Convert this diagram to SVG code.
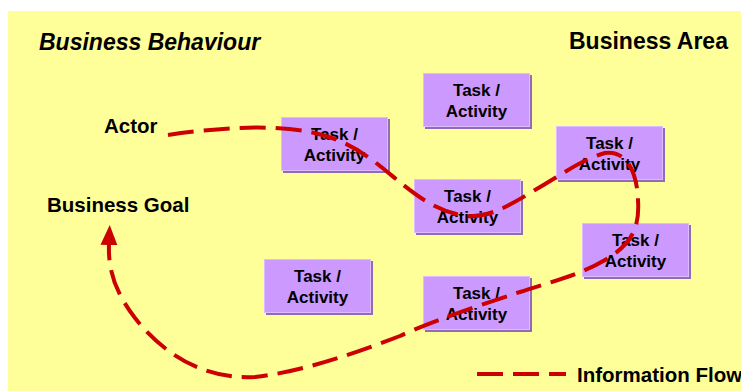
<svg xmlns="http://www.w3.org/2000/svg" width="741" height="391" viewBox="0 0 741 391">
  <style>
    .lbl { font-family: "Liberation Sans", Arial, sans-serif; font-weight: bold; fill: #000; }
    .title { font-size: 23px; }
    .side { font-size: 20.5px; }
    .task { font-size: 17px; text-anchor: middle; }
    .shadow { fill: #8F6CB3; }
    .box { fill: #CC99FF; stroke: #DDBBFF; stroke-width: 1; }
    .flow { fill: none; stroke: #CC0000; stroke-width: 4; stroke-dasharray: 26 10; }
  </style>
  <defs>
    <marker id="arrow" markerUnits="userSpaceOnUse" markerWidth="22" markerHeight="20" refX="1" refY="8.5" orient="auto">
      <path d="M0,0 L20,8.5 L0,17 z" fill="#CC0000"/>
    </marker>
    <g id="taskBox">
      <rect class="shadow" x="2" y="2" width="107" height="54"/>
      <rect class="box" x="0.5" y="0.5" width="106" height="53"/>
      <text class="lbl task" x="53.5" y="23">Task /</text>
      <text class="lbl task" x="53.5" y="44">Activity</text>
    </g>
  </defs>

  <!-- background panel -->
  <rect x="8" y="11" width="733" height="380" fill="#FFFF99"/>

  <!-- headings and side labels -->
  <text class="lbl title" x="39" y="50" font-style="italic">Business Behaviour</text>
  <text class="lbl title" x="569" y="49">Business Area</text>
  <text class="lbl side" x="104" y="133" font-size="21">Actor</text>
  <text class="lbl side" x="47" y="212">Business Goal</text>

  <!-- task / activity nodes -->
  <g id="task-a"><use href="#taskBox" x="281" y="117"/></g>
  <g id="task-b"><use href="#taskBox" x="423" y="73"/></g>
  <g id="task-c"><use href="#taskBox" x="414" y="179"/></g>
  <g id="task-d"><use href="#taskBox" x="556" y="126"/></g>
  <g id="task-e"><use href="#taskBox" x="582" y="223"/></g>
  <g id="task-f"><use href="#taskBox" x="264" y="259"/></g>
  <g id="task-g"><use href="#taskBox" x="423" y="276"/></g>

  <!-- information flow -->
  <g id="connectors">
    <path class="flow" marker-end="url(#arrow)"
      d="M168,135 C215,128 270,124 310,132 C340,138 360,150 380,166 C410,190 430,210 465,216 C490,218 510,205 535,190 C560,176 580,160 605,153 C625,150 637,170 638,200 C640,230 630,245 605,260 C580,275 550,282 520,292 C480,305 430,322 400,336 C350,355 300,372 255,377 C200,380 160,350 135,318 C115,292 108,270 109,244"/>
  </g>

  <!-- legend -->
  <g id="legend">
    <line class="flow" x1="477" y1="374" x2="566" y2="374"/>
    <text class="lbl side" x="577" y="382">Information Flow</text>
  </g>
</svg>
